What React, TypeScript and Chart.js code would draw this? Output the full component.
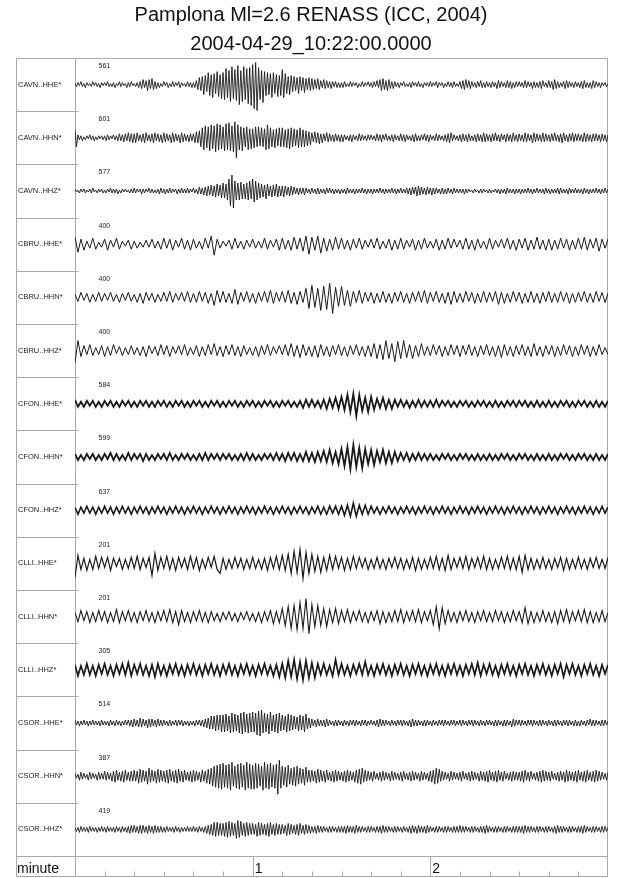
import React, { useEffect, useRef } from 'react';
import { Chart, registerables } from 'chart.js';

Chart.register(...registerables);

const titleLines = ['Pamplona Ml=2.6 RENASS (ICC, 2004)', '2004-04-29_10:22:00.0000'];
const channels = [
  'CAVN..HHE*', 'CAVN..HHN*', 'CAVN..HHZ*',
  'CBRU..HHE*', 'CBRU..HHN*', 'CBRU..HHZ*',
  'CFON..HHE*', 'CFON..HHN*', 'CFON..HHZ*',
  'CLLI..HHE*', 'CLLI..HHN*', 'CLLI..HHZ*',
  'CSOR..HHE*', 'CSOR..HHN*', 'CSOR..HHZ*',
];
const scaleLabels = ['561', '601', '577', '400', '400', '400', '584', '599', '637', '201', '201', '305', '514', '387', '419'];
const axisLabel = 'minute';
const minuteLabels = ['1', '2'];
const minuteSeconds = [60, 120];
const minorTickSeconds = [10, 20, 30, 40, 50, 70, 80, 90, 100, 110, 130, 140, 150, 160, 170];
// samples per second of each trace
const sampleRates = [2, 2, 2, 1, 1, 1, 1, 1, 1, 1, 1, 1, 2, 2, 2];

// amplitudes in display units (positive = up)
const cavnHHE = [
  1,-2,2,-1,3,-2,1,-3,2,-1,1,-2,3,-1,2,-2,1,-3,2,-1,
  2,-1,3,-2,1,-2,2,-3,1,-1,3,-2,2,-1,1,-3,2,-2,3,-1,
  1,-2,2,-3,3,-4,5,-3,4,-6,5,-4,6,-5,3,-4,2,-3,1,-2,
  3,-1,2,-3,1,-2,3,-2,2,-1,3,-3,2,-1,1,-2,3,-2,2,-3,
  2,-3,4,-5,7,-6,8,-10,9,-7,12,-11,10,-13,11,-9,13,-12,10,-14,
  12,-15,16,-13,14,-17,18,-14,15,-16,19,-20,14,-17,18,-15,16,-19,17,-21,
  20,-24,22,-26,17,-15,14,-18,13,-11,12,-10,11,-13,12,-9,10,-12,9,-11,
  15,-13,11,-9,8,-10,9,-7,8,-6,7,-9,8,-6,7,-8,6,-5,7,-6,
  6,-5,5,-4,6,-5,4,-3,5,-4,4,-3,3,-4,3,-2,3,-3,2,-3,
  2,-3,3,-2,1,-2,3,-2,2,-1,2,-3,1,-2,3,-2,2,-1,3,-2,
  2,-3,3,-2,4,-3,5,-6,6,-5,4,-6,5,-4,3,-4,3,-2,2,-3,
  2,-1,3,-2,1,-2,2,-3,3,-1,2,-2,3,-2,1,-3,2,-1,2,-2,
  3,-2,2,-1,3,-3,2,-1,2,-3,1,-2,3,-2,2,-3,3,-2,1,-2,
  3,-4,4,-5,5,-3,4,-4,3,-2,2,-3,3,-2,4,-3,2,-3,3,-2,
  2,-3,3,-2,2,-4,4,-3,3,-2,2,-3,4,-3,3,-4,2,-3,3,-2,
  3,-2,2,-3,4,-3,3,-2,2,-4,3,-3,2,-3,3,-4,4,-2,2,-3,
  4,-3,3,-5,5,-4,3,-3,2,-2,3,-4,4,-3,3,-2,2,-3,3,-2,
  2,-3,3,-4,4,-3,2,-3,2,-4,4,-3,3,-2,2,-3,2,-1,2,-2,
  1,
];
const cavnHHN = [
  8,-9,3,-2,2,-3,1,-2,2,-1,3,-2,2,-3,1,-2,2,-1,2,-2,
  2,-3,3,-2,2,-1,3,-2,2,-3,4,-3,3,-4,4,-3,5,-4,4,-5,
  4,-5,5,-3,3,-4,4,-5,5,-3,3,-4,4,-5,5,-3,4,-4,3,-5,
  5,-4,4,-3,3,-5,5,-4,4,-3,3,-5,5,-4,4,-3,3,-4,4,-3,
  4,-5,6,-5,7,-9,10,-12,12,-10,11,-13,13,-11,12,-14,14,-12,13,-11,
  11,-13,14,-12,15,-13,12,-14,16,-20,13,-12,11,-13,10,-9,11,-12,9,-11,
  9,-10,11,-9,11,-8,10,-9,9,-12,13,-11,10,-9,8,-10,9,-8,10,-9,
  10,-9,8,-10,9,-11,10,-9,9,-8,8,-10,10,-9,8,-9,7,-8,6,-7,
  5,-4,6,-5,5,-6,4,-5,4,-3,5,-4,4,-3,3,-4,4,-3,3,-4,
  3,-4,3,-2,2,-3,3,-4,3,-2,2,-3,4,-3,3,-2,2,-3,3,-2,
  3,-2,2,-3,4,-3,3,-4,3,-2,4,-3,2,-3,3,-4,3,-2,2,-3,
  4,-3,3,-4,3,-2,2,-3,3,-4,4,-3,2,-3,3,-2,4,-3,3,-4,
  3,-2,2,-3,4,-3,3,-2,2,-3,3,-4,4,-5,5,-3,3,-2,2,-3,
  3,-4,4,-3,3,-4,4,-3,2,-3,3,-4,4,-3,3,-4,5,-4,4,-3,
  3,-4,4,-3,5,-3,3,-4,4,-2,3,-4,4,-3,3,-4,5,-3,3,-4,
  4,-3,3,-4,5,-4,4,-3,3,-5,5,-4,4,-3,3,-4,5,-4,4,-3,
  3,-4,4,-3,5,-3,3,-4,4,-5,5,-3,3,-4,4,-3,5,-4,4,-3,
  4,-3,3,-4,5,-4,4,-3,3,-4,4,-3,4,-3,3,-4,4,-3,3,-4,
  3,
];
const cavnHHZ = [
  2,-1,1,-2,2,-1,2,-2,1,-1,2,-2,3,-1,1,-2,2,-1,2,-2,
  1,-2,2,-1,3,-2,2,-2,2,-3,1,-2,2,-1,2,-1,1,-2,2,-2,
  3,-2,2,-1,2,-3,2,-2,2,-1,3,-2,2,-2,1,-2,2,-3,3,-2,
  2,-3,2,-2,3,-2,2,-1,2,-3,2,-2,3,-2,2,-2,3,-2,2,-1,
  3,-2,2,-3,4,-3,3,-4,4,-5,5,-4,6,-5,5,-6,7,-5,6,-7,
  8,-7,7,-9,12,-15,16,-17,10,-9,8,-9,9,-8,7,-8,8,-9,10,-8,
  12,-11,10,-9,8,-7,7,-6,6,-8,7,-5,5,-6,6,-5,7,-6,5,-5,
  5,-6,5,-4,4,-5,5,-4,4,-3,3,-4,3,-3,3,-4,3,-2,2,-3,
  3,-2,2,-3,3,-3,2,-2,2,-3,3,-2,3,-2,2,-3,2,-2,2,-3,
  2,-2,2,-3,3,-2,2,-2,2,-3,2,-2,2,-2,3,-2,2,-3,2,-2,
  2,-3,2,-2,2,-2,3,-2,2,-3,2,-2,2,-2,3,-2,2,-3,2,-2,
  3,-2,2,-2,3,-3,3,-4,4,-3,4,-5,5,-4,4,-3,3,-4,4,-3,
  3,-4,3,-3,3,-2,2,-3,3,-3,2,-3,3,-2,2,-3,3,-2,2,-2,
  2,-2,2,-3,2,-2,2,-1,1,-2,2,-1,1,-2,2,-2,2,-1,1,-2,
  2,-2,1,-1,2,-2,2,-3,2,-2,2,-3,3,-2,2,-2,2,-3,2,-2,
  2,-3,2,-2,2,-2,3,-2,2,-3,2,-2,3,-2,2,-2,2,-3,3,-2,
  2,-3,2,-2,2,-2,3,-3,3,-2,2,-2,2,-3,3,-2,2,-2,3,-2,
  2,-2,2,-3,3,-2,2,-3,2,-2,2,-2,3,-2,2,-3,2,-2,3,-2,
  2,
];
const cbruHHE = [
  7,-8,5,-6,3,-4,6,-5,2,-3, 5,-6,4,-3,6,-5,3,-2,4,-5, 3,-4,2,-3,4,-3,5,-4,3,-5, 6,-4,5,-6,4,-3,6,-5,4,-6,
  5,-4,3,-5,6,-4,8,-11,5,-4, 3,-2,4,-5,6,-4,3,-5,4,-3, 5,-4,3,-4,6,-5,4,-3,5,-6, 6,-5,4,-6,7,-5,6,-7,8,-10,
  7,-6,8,-9,6,-7,5,-6,7,-5, 6,-5,4,-6,5,-4,6,-5,4,-3, 5,-4,6,-5,3,-4,5,-6,4,-5, 6,-5,4,-3,5,-6,4,-5,6,-4,
  3,-4,5,-6,4,-5,6,-4,5,-3, 4,-5,6,-5,4,-6,5,-4,3,-5, 6,-5,4,-3,5,-4,6,-5,4,-6, 5,-4,6,-6,4,-5,7,-5,4,-6,
  5,-6,4,-5,6,-4,5,-6,4,-5, 6,-5,7,-6,5,-4,6,-7,5,-4, 5,
];
const cbruHHN = [
  3,-4,5,-3,4,-5,3,-4,5,-4, 4,-3,5,-4,3,-5,4,-3,5,-4, 3,-5,4,-6,5,-3,4,-5,3,-4, 5,-4,6,-5,4,-3,5,-4,6,-5,
  4,-5,6,-4,5,-6,4,-8,7,-5, 6,-5,4,-6,8,-7,5,-4,6,-5, 4,-6,5,-4,6,-5,7,-6,5,-4, 6,-5,7,-6,5,-7,6,-5,9,-11,
  12,-10,9,-13,11,-12,14,-16,10,-9, 11,-8,7,-9,6,-5,7,-6,5,-4, 5,-6,4,-5,6,-5,4,-6,5,-4, 6,-5,4,-6,5,-4,6,-5,7,-6,
  5,-4,6,-5,4,-6,5,-7,6,-5, 4,-5,6,-4,5,-6,4,-5,6,-5, 5,-4,6,-7,5,-6,4,-5,6,-4, 5,-6,4,-5,6,-5,4,-6,5,-4,
  6,-5,4,-5,6,-4,5,-6,4,-5, 5,-4,6,-5,4,-5,6,-4,5,-5, 4,
];
const cbruHHZ = [
  -12,10,-6,5,-4,6,-5,3,-4,5, -6,4,-5,6,-3,4,-5,3,-4,5, -4,3,-5,4,-6,5,-3,4,-5,6, -4,5,-6,4,-3,5,-4,6,-5,3,
  -4,5,-6,4,-5,6,-4,7,-5,4, -6,5,-4,6,-5,4,-6,5,-4,3, -5,4,-6,5,-4,6,-5,4,-3,5, -4,6,-5,7,-6,5,-7,6,-5,4,
  -6,5,-7,6,-5,4,-6,5,-4,6, -5,4,-6,5,-4,6,-5,4,-6,5, -6,7,-8,6,-9,10,-8,7,-11,9, -8,10,-7,6,-8,5,-6,7,-5,4,
  -5,6,-4,5,-6,4,-5,6,-4,5, -6,5,-4,6,-5,4,-6,5,-4,6, -5,4,-6,5,-7,6,-5,4,-6,5, -4,6,-5,4,-6,7,-5,4,-6,5,
  -4,5,-6,4,-5,6,-4,5,-6,4, -5,6,-4,5,-6,4,-5,6,-4,3, -4,
];
const cfonHHE = [
  4,-3,2,-3,3,-2,3,-3,2,-3, 3,-2,3,-3,2,-3,3,-2,3,-3, 2,-3,3,-2,3,-3,2,-3,3,-2, 3,-3,2,-3,3,-2,3,-3,2,-3,
  3,-2,3,-3,2,-3,3,-2,3,-3, 2,-3,3,-2,3,-3,2,-3,3,-2, 3,-3,2,-3,3,-2,3,-3,2,-3, 3,-2,3,-3,2,-3,3,-4,4,-3,
  4,-3,3,-4,4,-5,5,-4,6,-5, 7,-6,9,-8,10,-12,9,-7,6,-8, 7,-6,5,-4,6,-5,4,-5,4,-3, 4,-3,3,-4,3,-3,4,-3,3,-3,
  3,-3,4,-3,3,-2,3,-3,2,-3, 3,-2,3,-3,2,-3,3,-2,3,-3, 2,-3,3,-3,2,-3,3,-2,3,-3, 3,-2,3,-3,2,-3,3,-3,2,-3,
  3,-3,2,-3,3,-2,3,-3,2,-3, 3,-2,3,-3,2,-3,3,-3,2,-3, 3,
];
const cfonHHN = [
  3,-3,2,-3,3,-2,3,-3,2,-3, 3,-2,4,-3,3,-3,2,-3,4,-3, 3,-2,3,-4,3,-3,2,-3,3,-2, 3,-3,4,-3,2,-3,3,-2,3,-3,
  2,-3,3,-3,4,-3,3,-2,3,-3, 3,-2,3,-3,2,-3,3,-3,4,-3, 3,-3,2,-3,3,-2,3,-3,4,-3, 3,-4,4,-3,4,-4,3,-4,5,-4,
  4,-5,5,-4,6,-5,7,-6,5,-7, 8,-9,10,-12,12,-10,9,-11,8,-7, 7,-8,6,-5,7,-6,5,-6,5,-4, 4,-3,4,-4,3,-3,4,-3,3,-3,
  3,-3,2,-3,3,-2,3,-3,2,-3, 3,-2,3,-3,2,-3,3,-3,2,-3, 3,-3,2,-3,3,-2,3,-3,2,-3, 3,-2,3,-3,2,-3,3,-3,2,-3,
  3,-3,2,-3,3,-2,3,-3,2,-3, 3,-2,3,-3,2,-3,3,-3,2,-3, 3,
];
const cfonHHZ = [
  3,-4,3,-3,4,-3,3,-4,3,-3, 4,-3,3,-4,3,-3,4,-3,3,-4, 3,-3,4,-3,3,-4,3,-3,4,-3, 3,-4,3,-3,4,-3,3,-4,3,-3,
  4,-3,3,-4,3,-3,4,-3,3,-4, 3,-3,4,-3,3,-4,3,-3,4,-3, 3,-4,3,-3,4,-3,3,-4,3,-3, 4,-3,3,-4,3,-3,4,-3,3,-4,
  3,-3,4,-4,3,-4,4,-3,4,-4, 4,-5,5,-6,7,-6,5,-4,5,-4, 4,-3,3,-4,3,-3,4,-3,3,-4, 3,-3,4,-3,3,-4,3,-3,4,-3,
  3,-4,3,-3,4,-3,3,-4,3,-3, 4,-3,3,-4,3,-3,4,-3,3,-4, 3,-3,4,-3,3,-4,3,-3,4,-3, 3,-4,3,-3,4,-3,3,-4,3,-3,
  4,-3,3,-4,3,-3,4,-3,3,-4, 3,-3,4,-3,3,-4,3,-3,4,-3, 3,
];
const clliHHE = [
  -14,8,-6,5,-7,4,-6,7,-5,6, -4,6,-7,5,-3,5,-6,4,-5,6, -5,7,-6,5,-4,6,-12,10,-7,6, -5,7,-6,5,-7,6,-4,5,-6,7,
  -5,6,-7,4,-5,6,-4,7,-6,-10, 5,-6,4,-5,6,-4,5,-6,4,-5, 6,-5,4,-6,5,-7,6,-5,7,-6, 8,-7,9,-10,12,-9,14,-15,11,-10,
  9,-8,7,-9,6,-7,8,-6,7,-5, 6,-7,5,-6,7,-5,6,-4,5,-6, 4,-5,6,-5,4,-6,5,-4,6,-5, 5,-6,4,-5,6,-7,5,-6,4,-5,
  6,-5,7,-6,5,-7,8,-6,5,-4, 6,-5,7,-6,5,-4,6,-5,7,-6, 5,-6,4,-5,6,-5,7,-6,5,-6, 7,-9,8,-6,5,-6,4,-5,6,-5,
  4,-6,5,-4,6,-7,5,-6,4,-5, 6,-5,4,-6,5,-4,6,-5,4,-5, 6,
];
const clliHHN = [
  4,-5,6,-4,5,-6,4,-5,6,-4, 5,-6,4,-5,7,-6,5,-4,6,-5, 4,-6,5,-4,6,-5,4,-6,5,-4, 6,-5,7,-6,5,-8,6,-5,4,-6,
  5,-4,6,-5,4,-6,5,-4,3,-5, 4,-3,5,-4,3,-5,4,-3,5,-4, 3,-5,4,-6,5,-4,6,-7,5,-6, 8,-9,10,-12,11,-13,14,-12,18,-17,
  12,-10,11,-9,8,-10,7,-6,8,-7, 6,-5,7,-6,5,-4,6,-5,4,-6, 5,-4,6,-7,5,-6,4,-5,6,-5, 7,-6,5,-4,6,-5,7,-6,5,-4,
  6,-8,10,-12,9,-7,6,-5,4,-6, 5,-4,6,-5,4,-6,5,-4,6,-5, 4,-5,6,-4,5,-6,4,-5,6,-4, 5,-6,9,-7,5,-6,4,-5,6,-5,
  4,-6,5,-7,6,-5,7,-6,5,-4, 6,-5,7,-6,5,-6,4,-5,6,-5, 4,
];
const clliHHZ = [
  5,-6,4,-5,6,-5,4,-6,5,-4, 6,-5,4,-6,5,-4,6,-5,7,-6, 5,-4,6,-5,4,-6,5,-7,6,-5, 4,-6,5,-4,6,-5,4,-6,5,-4,
  6,-5,4,-6,5,-4,6,-5,4,-6, 5,-4,6,-5,4,-6,5,-4,6,-5, 4,-6,5,-4,6,-5,4,-6,5,-7, 6,-8,9,-7,10,-9,8,-10,9,-8,
  7,-8,6,-5,6,-5,4,-6,10,-5, 6,-5,4,-6,5,-4,6,-5,8,-5, 4,-6,5,-4,6,-5,4,-6,5,-4, 6,-5,4,-6,5,-4,6,-5,4,-6,
  5,-4,6,-5,4,-6,5,-4,6,-5, 4,-6,5,-4,6,-5,7,-6,5,-4, 6,-5,4,-6,5,-4,6,-5,4,-6, 5,-4,6,-5,4,-6,5,-4,6,-5,
  4,-6,5,-4,6,-7,5,-4,6,-5, 4,-6,5,-4,6,-5,4,-6,5,-4, 5,
];
const csorHHE = [
  3,-2,2,-3,2,-2,3,-2,2,-3,2,-2,3,-2,2,-2,2,-3,3,-2,
  2,-2,2,-3,3,-2,2,-3,3,-2,2,-3,2,-2,3,-2,3,-3,3,-4,
  4,-3,3,-4,5,-4,4,-3,3,-5,4,-4,4,-3,3,-4,4,-3,3,-3,
  3,-2,2,-3,3,-3,2,-2,3,-3,3,-2,3,-3,2,-2,2,-3,2,-2,
  2,-3,3,-2,3,-3,3,-4,4,-5,5,-6,7,-6,7,-8,8,-7,8,-9,
  8,-9,9,-8,7,-10,10,-9,9,-8,8,-10,10,-11,11,-9,9,-10,10,-9,
  11,-9,10,-12,12,-13,13,-10,10,-9,9,-11,11,-8,8,-9,9,-10,10,-8,
  8,-7,7,-9,9,-8,8,-7,7,-6,6,-8,8,-7,7,-9,9,-6,5,-5,
  4,-3,3,-4,4,-3,3,-3,3,-4,4,-3,3,-2,2,-3,3,-3,3,-2,
  2,-3,3,-2,2,-3,3,-2,3,-3,3,-2,2,-3,3,-2,3,-3,2,-2,
  3,-2,2,-3,3,-4,4,-3,3,-3,3,-2,2,-3,3,-2,2,-3,3,-2,
  3,-3,3,-2,2,-3,3,-4,4,-3,3,-3,3,-2,2,-3,3,-3,3,-2,
  2,-3,3,-2,2,-3,3,-2,3,-3,3,-2,2,-3,3,-2,3,-3,2,-2,
  3,-3,3,-2,2,-3,3,-2,3,-3,3,-2,2,-3,3,-2,2,-3,3,-2,
  3,-2,2,-3,3,-3,3,-2,2,-3,3,-3,3,-2,2,-4,4,-3,3,-2,
  3,-3,3,-2,2,-3,3,-2,3,-3,3,-2,2,-3,3,-3,3,-2,2,-3,
  3,-2,2,-3,3,-3,3,-2,2,-3,3,-2,3,-3,3,-2,2,-3,3,-3,
  2,-3,3,-2,2,-3,3,-2,4,-3,3,-3,3,-2,2,-3,3,-3,3,-2,
  2,
];
const csorHHN = [
  3,-2,2,-4,4,-3,3,-2,2,-4,4,-3,3,-2,2,-4,4,-3,3,-3,
  5,-4,4,-3,3,-5,5,-6,6,-4,4,-5,5,-6,6,-4,4,-5,5,-5,
  6,-5,5,-7,7,-6,6,-5,5,-8,8,-6,6,-5,5,-7,7,-6,6,-5,
  5,-6,6,-7,7,-5,5,-6,6,-7,7,-5,5,-6,6,-4,4,-5,5,-6,
  6,-5,5,-4,4,-6,6,-5,5,-7,7,-8,8,-10,10,-11,11,-12,12,-13,
  13,-11,11,-12,12,-14,14,-10,10,-12,12,-13,13,-11,11,-14,14,-12,12,-13,
  11,-13,13,-12,12,-10,10,-14,14,-12,12,-13,13,-11,11,-12,12,-18,16,-12,
  10,-9,9,-11,11,-8,8,-9,9,-10,10,-8,8,-7,7,-9,9,-6,6,-6,
  6,-5,5,-7,7,-6,6,-5,5,-6,6,-4,4,-5,5,-6,6,-5,5,-4,
  4,-5,5,-6,6,-5,5,-4,4,-6,6,-7,7,-8,8,-6,6,-5,5,-4,
  4,-5,5,-3,3,-4,4,-5,5,-4,4,-3,3,-5,5,-4,4,-3,3,-4,
  4,-5,5,-3,3,-4,4,-5,5,-4,4,-3,3,-5,5,-4,4,-3,3,-5,
  5,-6,6,-8,8,-7,7,-5,5,-4,4,-3,3,-5,5,-4,4,-3,3,-4,
  4,-5,5,-3,3,-4,4,-5,5,-4,4,-3,3,-5,5,-4,4,-5,5,-6,
  6,-4,4,-5,5,-6,6,-4,4,-5,5,-3,3,-4,4,-5,5,-4,4,-4,
  4,-5,5,-6,6,-4,4,-5,5,-3,3,-4,4,-5,5,-6,6,-5,5,-4,
  4,-5,5,-3,3,-4,4,-5,5,-4,4,-6,6,-5,5,-4,4,-5,5,-6,
  6,-4,4,-5,5,-6,6,-4,4,-5,5,-6,6,-5,5,-4,4,-3,3,-4,
  4,
];
const csorHHZ = [
  2,-2,2,-3,3,-2,2,-2,2,-3,3,-2,2,-2,2,-3,2,-2,3,-2,
  2,-3,3,-2,2,-2,2,-3,3,-2,2,-3,3,-2,2,-3,3,-4,4,-3,
  4,-3,3,-4,4,-4,4,-3,3,-4,4,-3,3,-4,4,-3,3,-3,3,-3,
  2,-3,3,-2,2,-2,2,-3,3,-2,2,-3,2,-2,2,-2,3,-2,2,-2,
  3,-2,2,-3,3,-2,2,-3,3,-4,4,-5,5,-6,7,-7,7,-6,6,-6,
  6,-7,7,-8,8,-7,7,-6,6,-9,9,-8,8,-6,6,-7,7,-6,6,-5,
  6,-5,5,-7,7,-6,6,-5,5,-6,6,-7,7,-5,5,-6,6,-5,5,-5,
  5,-4,4,-6,6,-5,5,-4,4,-5,5,-6,6,-4,4,-5,5,-4,4,-4,
  3,-3,3,-4,4,-3,3,-3,3,-2,2,-3,3,-3,3,-2,2,-3,3,-3,
  3,-3,3,-4,4,-3,3,-3,3,-4,4,-3,3,-3,3,-2,2,-3,3,-3,
  3,-2,2,-3,3,-3,3,-4,4,-3,3,-3,3,-2,2,-3,3,-3,3,-2,
  2,-3,3,-2,2,-3,3,-4,4,-3,3,-4,4,-3,3,-3,3,-4,4,-3,
  3,-2,2,-3,3,-3,3,-2,2,-3,3,-3,3,-2,2,-3,3,-3,3,-3,
  4,-3,3,-3,3,-2,2,-3,3,-3,3,-2,2,-3,3,-3,3,-4,4,-3,
  3,-2,2,-3,3,-3,3,-2,2,-3,3,-3,3,-2,2,-3,3,-3,3,-3,
  3,-3,3,-4,4,-3,3,-3,3,-2,2,-3,3,-3,3,-2,2,-3,3,-3,
  3,-2,2,-3,3,-4,4,-3,3,-3,3,-2,2,-3,3,-3,3,-2,2,-3,
  3,-3,3,-4,4,-3,3,-2,2,-3,3,-3,3,-2,2,-3,3,-3,3,-2,
  2,
];

const traces = [
  cavnHHE, cavnHHN, cavnHHZ,
  cbruHHE, cbruHHN, cbruHHZ,
  cfonHHE, cfonHHN, cfonHHZ,
  clliHHE, clliHHN, clliHHZ,
  csorHHE, csorHHN, csorHHZ,
];

const ROW = 53.2;
const FONT = '"Liberation Sans", Arial, Helvetica, sans-serif';
const GRID = '#a8a8a8';
const lineWidths = [0.9, 0.9, 0.9, 1, 1, 1, 1.8, 1.8, 1.6, 1.2, 1.1, 1.7, 0.9, 0.9, 0.9];

const framePlugin = {
  id: 'seismoFrame',
  beforeDatasetsDraw(chart: any) {
    const { ctx, chartArea, scales } = chart;
    const xs = scales.x;
    const ys = scales.y;
    const outerLeft = 16.5;
    const left = Math.round(chartArea.left) + 0.5;
    const right = Math.round(chartArea.right) - 0.5;
    const top = Math.round(chartArea.top) + 0.5;
    const axisTop = Math.round(chartArea.bottom) + 0.5;
    const bottom = 876.5;
    ctx.save();
    ctx.strokeStyle = GRID;
    ctx.lineWidth = 1;
    ctx.beginPath();
    ctx.rect(outerLeft, top, right - outerLeft, bottom - top);
    ctx.moveTo(left, top);
    ctx.lineTo(left, bottom);
    ctx.moveTo(outerLeft, axisTop);
    ctx.lineTo(right, axisTop);
    for (let i = 1; i < channels.length; i++) {
      const y = Math.round(ys.getPixelForValue(i * ROW)) + 0.5;
      ctx.moveTo(outerLeft, y);
      ctx.lineTo(left + 3, y);
    }
    minuteSeconds.forEach((s) => {
      const x = Math.round(xs.getPixelForValue(s)) + 0.5;
      ctx.moveTo(x, axisTop);
      ctx.lineTo(x, bottom);
    });
    minorTickSeconds.forEach((s) => {
      const x = Math.round(xs.getPixelForValue(s)) + 0.5;
      ctx.moveTo(x, bottom - 5);
      ctx.lineTo(x, bottom);
    });
    ctx.stroke();

    ctx.fillStyle = '#111';
    ctx.textAlign = 'center';
    ctx.textBaseline = 'alphabetic';
    ctx.font = `20px ${FONT}`;
    ctx.fillText(titleLines[0], 311, 21);
    ctx.fillText(titleLines[1], 311, 50);

    ctx.textAlign = 'left';
    ctx.textBaseline = 'middle';
    channels.forEach((name, i) => {
      const yc = ys.getPixelForValue(i * ROW + ROW / 2);
      const yt = ys.getPixelForValue(i * ROW);
      ctx.fillStyle = '#222';
      ctx.font = `7.5px ${FONT}`;
      ctx.fillText(name, 18, yc);
      ctx.font = `7px ${FONT}`;
      ctx.fillText(scaleLabels[i], left + 23, yt + 8);
    });

    ctx.fillStyle = '#111';
    ctx.textBaseline = 'alphabetic';
    ctx.font = `14px ${FONT}`;
    ctx.fillText(axisLabel, 17, 873);
    minuteSeconds.forEach((s, i) => {
      const x = xs.getPixelForValue(s);
      ctx.fillText(minuteLabels[i], x + 2, 873);
    });
    ctx.restore();
  },
};

export default function App() {
  const canvasRef = useRef<HTMLCanvasElement | null>(null);

  useEffect(() => {
    if (!canvasRef.current) return;
    const chart = new Chart(canvasRef.current, {
      type: 'line',
      data: {
        datasets: traces.map((arr, i) => ({
          label: channels[i],
          data: arr.map((v, k) => ({ x: k / sampleRates[i], y: i * ROW + ROW / 2 - v })),
          borderColor: '#1a1a1a',
          borderWidth: lineWidths[i],
          pointRadius: 0,
          tension: 0,
          fill: false,
        })),
      },
      options: {
        animation: false,
        responsive: false,
        maintainAspectRatio: false,
        events: [],
        layout: { padding: { left: 75, right: 32, top: 58, bottom: 22 } },
        plugins: {
          legend: { display: false },
          title: { display: false },
          tooltip: { enabled: false },
        },
        scales: {
          x: { type: 'linear', min: 0, max: 180, display: false },
          y: { type: 'linear', min: 0, max: channels.length * ROW, reverse: true, display: false },
        },
      },
      plugins: [framePlugin],
    });
    return () => chart.destroy();
  }, []);

  return (
    <div style={{ position: 'absolute', left: 0, top: 0, width: 640, height: 878, background: '#fff' }}>
      <canvas ref={canvasRef} width={640} height={878} style={{ display: 'block', width: 640, height: 878 }} />
    </div>
  );
}
